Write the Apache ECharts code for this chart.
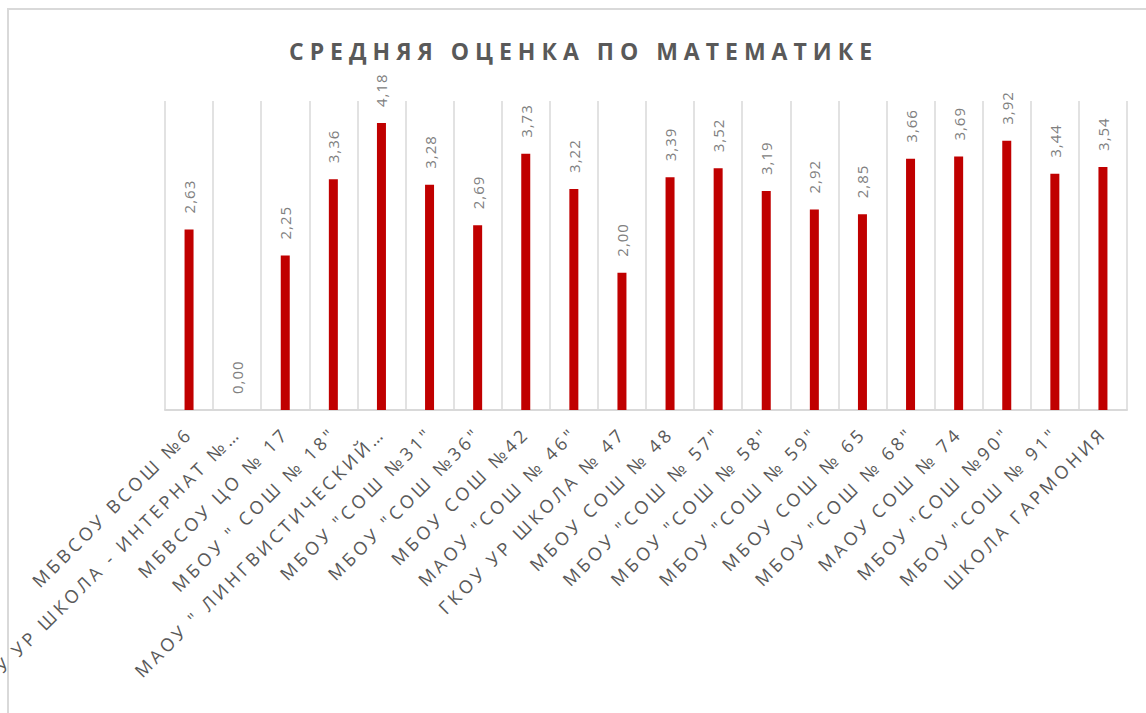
<!DOCTYPE html>
<html>
<head>
<meta charset="utf-8">
<title>Средняя оценка по математике</title>
<script src="https://cdn.jsdelivr.net/npm/echarts@6/dist/echarts.min.js"></script>
<style>
  html, body { margin: 0; padding: 0; background: #fff; }
  #main { width: 1146px; height: 713px; }
  /* excel-like letter spacing, svg renderer lets css reach the text */
  #main text[style*="bold"] { letter-spacing: 6px; }
  #main text[style*="18px"] { letter-spacing: 3.5px; }
  #main text[style*="15px"] { letter-spacing: 1px; }
</style>
</head>
<body>
<div id="main"></div>
<script>
// школы
const schools = [
  'МБВСОУ ВСОШ №6',
  'ГКОУ УР ШКОЛА - ИНТЕРНАТ №…',
  'МБВСОУ ЦО № 17',
  'МБОУ " СОШ № 18"',
  'МАОУ " ЛИНГВИСТИЧЕСКИЙ…',
  'МБОУ "СОШ №31"',
  'МБОУ "СОШ №36"',
  'МБОУ СОШ №42',
  'МАОУ "СОШ № 46"',
  'ГКОУ УР ШКОЛА № 47',
  'МБОУ СОШ № 48',
  'МБОУ "СОШ № 57"',
  'МБОУ "СОШ № 58"',
  'МБОУ "СОШ № 59"',
  'МБОУ СОШ № 65',
  'МБОУ "СОШ № 68"',
  'МАОУ СОШ № 74',
  'МБОУ "СОШ №90"',
  'МБОУ "СОШ № 91"',
  'ШКОЛА ГАРМОНИЯ'
]
// средний балл
const avgScore = [2.63, 0.00, 2.25, 3.36, 4.18, 3.28, 2.69, 3.73, 3.22, 2.00,
  3.39, 3.52, 3.19, 2.92, 2.85, 3.66, 3.69, 3.92, 3.44, 3.54]

const chartTitle = 'СРЕДНЯЯ ОЦЕНКА ПО МАТЕМАТИКЕ'
const yMin = 0
const yMax = 4.5

const chart = echarts.init(document.getElementById('main'), null, { renderer: 'svg' })

const option = {
  backgroundColor: '#ffffff',
  animation: false,
  textStyle: { fontFamily: '"Open Sans", sans-serif' },
  title: {
    text: chartTitle,
    left: 284,
    top: 34,
    textStyle: { fontSize: 23, fontWeight: 'bold', color: '#595959' }
  },
  // рамка диаграммы
  graphic: [{
    type: 'rect',
    shape: { x: 8, y: 9, width: 1200, height: 800 },
    style: { fill: 'none', stroke: '#d9d9d9', lineWidth: 2 },
    silent: true
  }],
  grid: {
    left: 165,
    right: 19,
    top: 101,
    bottom: 303,
    outerBoundsMode: 'none',
    containLabel: false
  },
  xAxis: {
    type: 'category',
    data: schools,
    axisTick: { show: false },
    axisLine: { lineStyle: { color: '#d9d9d9', width: 2 } },
    splitLine: { show: true, lineStyle: { color: '#d9d9d9', width: 1.5 } },
    axisLabel: {
      interval: 0,
      rotate: 45,
      margin: 20,
      fontSize: 18,
      color: '#595959'
    }
  },
  yAxis: {
    type: 'value',
    min: yMin,
    max: yMax,
    show: false,
    splitLine: { show: false }
  },
  series: [{
    type: 'bar',
    data: avgScore,
    barWidth: 9,
    itemStyle: { color: '#c00000' },
    label: {
      show: true,
      position: 'top',
      rotate: 90,
      align: 'left',
      verticalAlign: 'middle',
      distance: 16,
      fontSize: 15,
      color: '#808080',
      formatter: p => p.value.toFixed(2).replace('.', ',')
    }
  }]
}
chart.setOption(option)
</script>
</body>
</html>
